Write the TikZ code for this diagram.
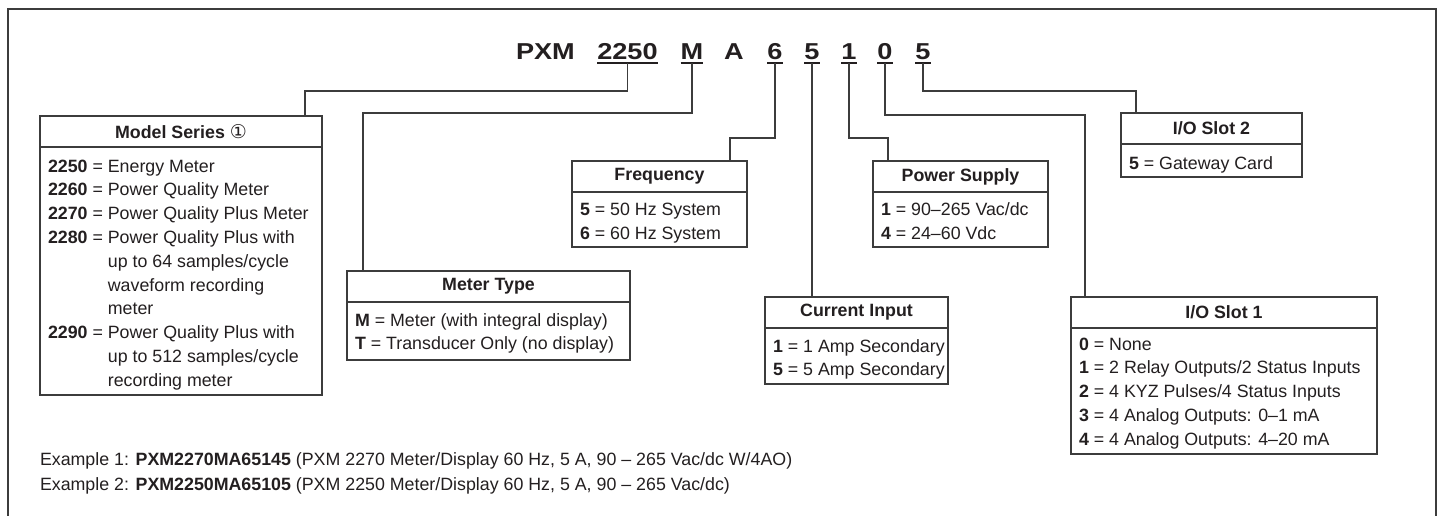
\documentclass[tikz,border=0pt]{standalone}
\usepackage{fontspec}
\setmainfont{Liberation Sans}
\newfontfamily\ttlfont{Liberation Sans}[FakeStretch=1.18]
\newfontfamily\symfont{DejaVu Sans}
\usetikzlibrary{calc}
\definecolor{ink}{HTML}{231F20}
\definecolor{ln}{HTML}{3C3C3C}
\begin{document}
\begin{tikzpicture}[x=1pt,y=-1pt,
  every node/.style={inner sep=0pt, outer sep=0pt, text=ink},
  box/.style={draw=ln, line width=1.3pt, rectangle},
  conn/.style={draw=ln, line width=1.3pt},
  ttl/.style={font=\ttlfont\fontsize{23}{23}\selectfont\bfseries},
  hdr/.style={font=\fontsize{17.8}{23.8}\selectfont\bfseries, anchor=center},
  body/.style={font=\fontsize{17.8}{23.8}\selectfont, align=left, anchor=base west},
  uline/.style={draw=ink, line width=2pt},
]
\useasboundingbox (0,0) rectangle (1441,515);
\fill[white] (0,0) rectangle (1441,515);
\draw[ln, line width=1.7pt] (8,530) -- (8,9) -- (1436,9) -- (1436,530);

% title code
\node[ttl, anchor=base west] (pxm) at (516,59) {PXM};
\node[ttl, anchor=base] (c1) at (627.5,59) {2250};
\node[ttl, anchor=base] (c2) at (692,59) {M};
\node[ttl, anchor=base] (c3) at (734,59) {A};
\node[ttl, anchor=base] (c4) at (775,59) {6};
\node[ttl, anchor=base] (c5) at (812,59) {5};
\node[ttl, anchor=base] (c6) at (849,59) {1};
\node[ttl, anchor=base] (c7) at (885,59) {0};
\node[ttl, anchor=base] (c8) at (923,59) {5};
\foreach \c in {c1,c2,c4,c5,c6,c7,c8}{
  \draw[uline] ([yshift=-4pt]\c.base west) -- ([yshift=-4pt]\c.base east);
  \coordinate (u\c) at ([yshift=-4pt]\c.base);
}

% boxes
\node[box, minimum width=282pt, minimum height=279pt] (ms) at (181,255.5) {};
\node[box, minimum width=283pt, minimum height=89pt] (mt) at (488.5,315.5) {};
\node[box, minimum width=175pt, minimum height=86pt] (fq) at (659.5,204) {};
\node[box, minimum width=183pt, minimum height=87pt] (ci) at (856.5,340.5) {};
\node[box, minimum width=175pt, minimum height=86pt] (ps) at (960.5,204) {};
\node[box, minimum width=181pt, minimum height=64pt] (sb) at (1211.5,145) {};
\node[box, minimum width=306pt, minimum height=157pt] (sa) at (1224,375.5) {};
\foreach \b in {ms,mt,fq,ci,ps,sb,sa}{
  \draw[conn] ([yshift=-31pt]\b.north west) -- ([yshift=-31pt]\b.north east);
}

% headers
\node[hdr] (msh) at ([yshift=-15.5pt]ms.north) {Model Series {\symfont\mdseries\fontsize{19}{19}\selectfont ①}};
\node[hdr] (mth) at ([yshift=-15.5pt]mt.north) {Meter Type};
\node[hdr] (fqh) at ([yshift=-15.5pt]fq.north) {Frequency};
\node[hdr] (cih) at ([yshift=-15.5pt]ci.north) {Current Input};
\node[hdr] (psh) at ([yshift=-15.5pt]ps.north) {Power Supply};
\node[hdr] (sbh) at ([yshift=-15.5pt]sb.north) {I/O Slot 2};
\node[hdr] (sah) at ([yshift=-15.5pt]sa.north) {I/O Slot 1};

% bodies (anchored at the baseline of their last line)
\node[body] (msb) at ([xshift=8pt,yshift=-270.2pt]ms.north west) {\textbf{2250} = Energy Meter\\
\textbf{2260} = Power Quality Meter\\
\textbf{2270} = Power Quality Plus Meter\\
\textbf{2280} = Power Quality Plus with\\
\hphantom{\textbf{2280} = }up to 64 samples/cycle\\
\hphantom{\textbf{2280} = }waveform recording\\
\hphantom{\textbf{2280} = }meter\\
\textbf{2290} = Power Quality Plus with\\
\hphantom{\textbf{2280} = }up to 512 samples/cycle\\
\hphantom{\textbf{2280} = }recording meter};
\node[body] (mtb) at ([xshift=8pt,yshift=-78.8pt]mt.north west) {\textbf{M} = Meter (with integral display)\\
\textbf{T} = Transducer Only (no display)};
\node[body] (fqb) at ([xshift=8pt,yshift=-78pt]fq.north west) {\textbf{5} = 50 Hz System\\
\textbf{6} = 60 Hz System};
\node[body] (cib) at ([xshift=8pt,yshift=-78.8pt]ci.north west) {\textbf{1} = 1 Amp Secondary\\
\textbf{5} = 5 Amp Secondary};
\node[body] (psb) at ([xshift=8pt,yshift=-78pt]ps.north west) {\textbf{1} = 90–265 Vac/dc\\
\textbf{4} = 24–60 Vdc};
\node[body] (sbb) at ([xshift=8pt,yshift=-56pt]sb.north west) {\textbf{5} = Gateway Card};
\node[body] (sab) at ([xshift=8pt,yshift=-148.2pt]sa.north west) {\textbf{0} = None\\
\textbf{1} = 2 Relay Outputs/2 Status Inputs\\
\textbf{2} = 4 KYZ Pulses/4 Status Inputs\\
\textbf{3} = 4 Analog Outputs: 0–1 mA\\
\textbf{4} = 4 Analog Outputs: 4–20 mA};

% connectors
\coordinate (e1) at (305,91);
\coordinate (e2) at (363,113);
\coordinate (e4) at (730,138);
\coordinate (e6) at (888,138);
\coordinate (e7) at (1085,115);
\coordinate (e8) at (1136,91);
\draw[conn] (uc1) |- (e1) -- (e1 |- ms.north);
\draw[conn] (uc2) |- (e2) -- (e2 |- mt.north);
\draw[conn] (uc4) |- (e4) -- (e4 |- fq.north);
\draw[conn] (uc5) -- (uc5 |- ci.north);
\draw[conn] (uc6) |- (e6) -- (e6 |- ps.north);
\draw[conn] (uc7) |- (e7) -- (e7 |- sa.north);
\draw[conn] (uc8) |- (e8) -- (e8 |- sb.north);

% examples
\node[body] (ex1) at (40,465) {Example 1: \textbf{PXM2270MA65145} (PXM 2270 Meter/Display 60 Hz, 5 A, 90 – 265 Vac/dc W/4AO)};
\node[body] (ex2) at (40,490) {Example 2: \textbf{PXM2250MA65105} (PXM 2250 Meter/Display 60 Hz, 5 A, 90 – 265 Vac/dc)};
\end{tikzpicture}
\end{document}
